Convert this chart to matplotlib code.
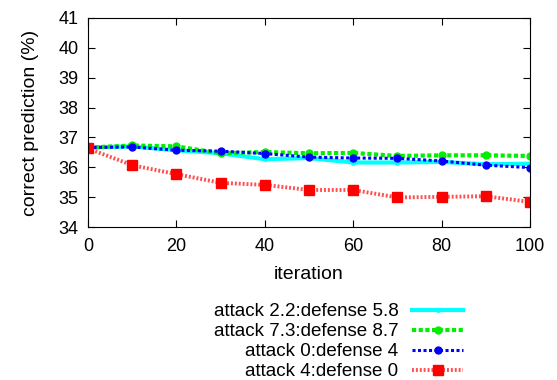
import matplotlib
matplotlib.use('Agg')
import matplotlib.pyplot as plt

plt.rcParams['font.family'] = ['Liberation Sans', 'DejaVu Sans']

iteration = [0, 10, 20, 30, 40, 50, 60, 70, 80, 90, 100]

cyan_vals = [36.66, 36.70, 36.57, 36.47, 36.27, 36.31, 36.16, 36.16, 36.18, 36.10, 36.12]
green_vals = [36.66, 36.73, 36.70, 36.47, 36.51, 36.47, 36.48, 36.38, 36.40, 36.40, 36.38]
blue_vals = [36.66, 36.68, 36.57, 36.54, 36.46, 36.34, 36.31, 36.30, 36.21, 36.07, 35.99]
red_vals = [36.63, 36.07, 35.77, 35.48, 35.41, 35.24, 35.24, 34.99, 35.01, 35.03, 34.84]

labels = ['attack 2.2:defense 5.8', 'attack 7.3:defense 8.7',
          'attack 0:defense 4', 'attack 4:defense 0']

fig = plt.figure(figsize=(5.57, 3.80), dpi=100)
ax = fig.add_axes([88/557, 1-227/380, 442/557, 209/380])

ax.plot(iteration, cyan_vals, color='#00ffff', lw=3, ls='-', marker='o', ms=2.5, label=labels[0])
ax.plot(iteration, green_vals, color='#00ee00', lw=3, ls=(0, (1, 0.6)), marker='o', ms=5, label=labels[1])
ax.plot(iteration, blue_vals, color='#0000ff', lw=2.2, ls=(0, (1, 0.8)), marker='o', ms=5, label=labels[2])
ax.plot(iteration, red_vals, color='#ff5050', lw=2.8, ls=(0, (0.5, 0.5)), marker='s', ms=7,
        mfc='#ff0000', mec='#ff0000', label=labels[3])

ax.set_xlim(0, 100)
ax.set_ylim(34, 41)
ax.set_xticks(range(0, 101, 20))
ax.set_yticks(range(34, 42))
ax.tick_params(direction='in', top=True, right=True, labelsize=13, length=5)
ax.tick_params(axis='x', pad=8)
ax.tick_params(axis='y', pad=7)
ax.set_xlabel('iteration', fontsize=14, labelpad=8)
ax.set_ylabel('correct prediction (%)', fontsize=14, labelpad=14)

leg = ax.legend(loc='upper right', bbox_to_anchor=(463/557, 1-303/380),
                bbox_transform=fig.transFigure, frameon=False, markerfirst=False,
                fontsize=13.5, handlelength=2.7, handletextpad=0.75,
                labelspacing=0.16, borderpad=0, borderaxespad=0)
for t in leg.get_texts():
    t.set_ha('right')

fig.savefig('out.png', dpi=100)
